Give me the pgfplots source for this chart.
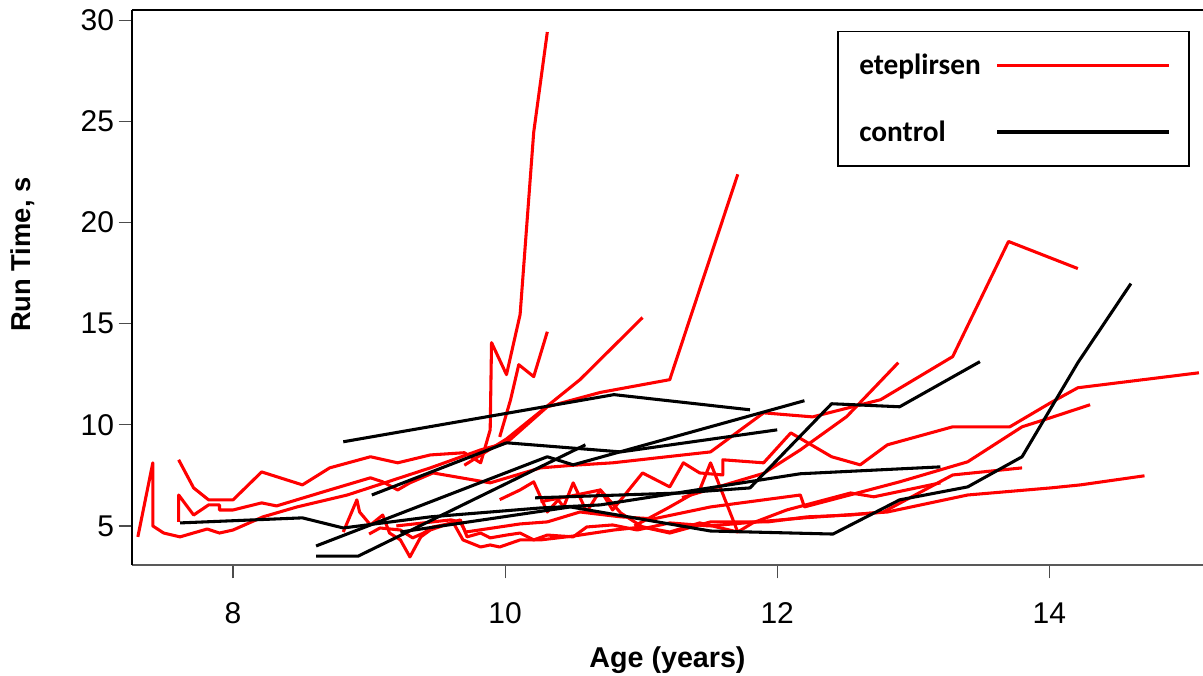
\documentclass[border=0pt]{standalone}
\usepackage{fontspec}
\setmainfont{Liberation Sans}
\newfontfamily\legfont{Carlito}
\usepackage{pgfplots}
\pgfplotsset{compat=1.18}
\begin{document}
\begin{tikzpicture}
\useasboundingbox (-99pt,-82.5pt) rectangle (803.25pt,423.75pt);
\begin{axis}[
  at={(0,0)}, anchor=south west, scale only axis,
  width=803.25pt, height=416.25pt,
  xmin=7.257, xmax=15.13, ymin=3.07, ymax=30.5,
  axis x line*=bottom, axis y line*=left,
  x axis line style={-, draw=black!65, line width=2pt},
  y axis line style={-, draw=black, line width=1pt},
  xtick={8,10,12,14}, ytick={5,10,15,20,25,30},
  tick align=outside, major tick length=10pt,
  tick style={draw=black!70, line width=0.9pt},
  /pgf/number format/assume math mode=true,
  ticklabel style={font=\fontsize{22.5}{26}\selectfont},
  yticklabel style={anchor=east},
  xticklabel style={anchor=north, yshift=-15pt},
  xlabel={Age (years)}, ylabel={Run Time, s},
  every axis x label/.style={at={(rel axis cs:0.5,0)}, yshift=-71pt, anchor=center,
    font=\bfseries\fontsize{21.5}{25}\selectfont},
  every axis y label/.style={at={(rel axis cs:0,0.559)}, xshift=-82pt, rotate=90, anchor=center,
    font=\bfseries\fontsize{20.5}{24}\selectfont},
  every axis plot/.append style={line width=2.3pt, line join=round},
  legend style={at={(0.988,0.963)}, anchor=north east, draw=black, line width=1.4pt,
    font=\legfont\bfseries\fontsize{22}{26}\selectfont, inner xsep=14pt, inner ysep=15pt,
    row sep=29pt, /tikz/every even column/.append style={column sep=13pt}},
  legend cell align=left, legend plot pos=right,
  legend image code/.code={\path (-9pt,0pt); \draw[#1, line width=2.3pt] (0pt,0pt) -- (129pt,0pt);},
]
\draw[black, line width=1pt] (rel axis cs:0,1) -- (rel axis cs:1,1);
\addlegendimage{red}
\addlegendentry{eteplirsen}
\addlegendimage{black}
\addlegendentry{control}
% eteplirsen (red)
\addplot[red, forget plot] coordinates {(7.60,8.27)(7.71,6.88)(7.82,6.29)(7.92,6.29)(8.00,6.29)(8.21,7.67)(8.51,7.03)(8.71,7.87)(9.01,8.42)(9.21,8.12)(9.45,8.51)(9.70,8.62)(9.82,8.12)(9.89,9.75)(9.90,14.06)(10.01,12.48)(10.11,15.45)(10.21,24.46)(10.31,29.41)};
\addplot[red, forget plot] coordinates {(7.30,4.46)(7.41,8.12)(7.41,5.00)(7.49,4.65)(7.61,4.46)(7.81,4.85)(7.90,4.65)(8.00,4.80)(8.22,5.45)(8.47,5.94)(8.84,6.53)(9.45,7.87)(9.82,8.76)(10.01,9.11)(10.31,10.89)(10.70,11.6)(11.21,12.23)(11.71,22.38)};
\addplot[red, forget plot] coordinates {(7.60,5.20)(7.60,6.53)(7.71,5.54)(7.82,6.04)(7.90,6.04)(7.90,5.79)(8.00,5.79)(8.21,6.14)(8.32,5.99)(8.71,6.78)(9.01,7.38)(9.10,7.18)(9.21,6.78)(9.30,7.13)(9.47,7.62)(9.89,7.13)(10.26,7.87)(10.50,8.00)(10.79,8.12)(11.51,8.66)(11.90,10.59)(12.26,10.39)(12.76,11.24)(13.29,13.37)(13.70,19.06)(14.21,17.72)};
\addplot[red, forget plot] coordinates {(9.70,8.00)(10.01,9.30)(10.55,12.23)(11.01,15.30)};
\addplot[red, forget plot] coordinates {(9.96,9.40)(10.04,11.24)(10.10,12.97)(10.21,12.38)(10.31,14.60)};
\addplot[red, forget plot] coordinates {(11.30,6.40)(11.90,7.60)(12.17,8.76)(12.51,10.40)(12.89,13.07)};
\addplot[red, forget plot] coordinates {(9.96,6.30)(10.11,6.78)(10.21,7.18)(10.31,5.69)(10.39,6.29)(10.43,5.94)(10.50,7.13)(10.60,5.69)(10.70,6.78)(10.79,5.79)(11.01,7.62)(11.21,6.93)(11.31,8.12)(11.43,7.62)(11.60,7.52)(11.60,8.27)(11.90,8.12)(12.10,9.60)(12.40,8.42)(12.61,8.02)(12.81,9.01)(13.29,9.90)(13.71,9.90)(14.01,11.09)(14.21,11.83)(15.10,12.57)};
\addplot[red, forget plot] coordinates {(8.81,4.70)(8.91,6.29)(8.93,5.69)(9.01,5.05)(9.10,5.54)(9.15,4.65)(9.23,4.31)(9.30,3.47)(9.38,4.46)(9.45,4.80)(9.60,5.15)(9.67,5.30)(9.72,4.46)(9.82,4.65)(9.89,4.41)(10.01,4.55)(10.11,4.65)(10.21,4.31)(10.31,4.55)(10.50,4.46)(10.60,4.95)(10.79,5.05)(10.97,4.80)(11.21,5.15)(11.50,5.00)(12.20,5.40)(12.81,5.69)(13.40,6.53)(14.01,6.88)(14.23,7.03)(14.70,7.48)};
\addplot[red, forget plot] coordinates {(9.00,4.60)(9.08,4.90)(9.23,4.80)(9.32,4.41)(9.40,4.65)(9.47,4.95)(9.62,5.15)(9.69,4.31)(9.82,3.96)(9.89,4.06)(9.96,3.96)(10.11,4.31)(10.26,4.31)(10.50,4.50)(10.80,4.80)(11.01,4.95)(11.21,4.65)(11.51,5.20)(11.93,5.20)(12.22,5.45)(12.54,5.54)(12.78,5.69)(13.29,7.52)(13.80,7.87)};
\addplot[red, forget plot] coordinates {(9.20,5.00)(9.60,5.30)(9.67,5.20)(9.71,4.70)(10.11,5.10)(10.31,5.20)(10.55,5.69)(10.85,5.45)(11.09,5.35)(11.51,5.94)(12.17,6.53)(12.20,5.94)(12.90,7.18)(13.40,8.17)(13.80,9.90)(14.01,10.35)(14.30,10.99)};
\addplot[red, forget plot] coordinates {(10.26,6.20)(10.50,6.50)(10.70,6.78)(10.85,5.64)(11.01,4.95)(11.21,4.70)(11.43,5.15)(11.71,4.70)(11.82,5.15)(12.07,5.79)(12.54,6.63)(12.71,6.44)(13.20,7.13)};
\addplot[red, forget plot] coordinates {(10.95,5.00)(11.20,5.90)(11.43,6.78)(11.51,8.12)(11.71,4.70)};
% control (black)
\addplot[black, forget plot] coordinates {(8.81,9.16)(10.80,11.49)(11.80,10.74)};
\addplot[black, forget plot] coordinates {(9.02,6.53)(10.01,9.11)(10.85,8.66)(12.00,9.75)};
\addplot[black, forget plot] coordinates {(8.61,4.01)(10.31,8.42)(10.50,8.02)(12.20,11.19)};
\addplot[black, forget plot] coordinates {(8.61,3.51)(8.92,3.51)(10.59,9.01)};
\addplot[black, forget plot] coordinates {(7.61,5.15)(8.51,5.40)(8.81,4.90)(9.45,5.45)(10.26,5.89)(10.70,6.04)(12.17,7.58)(13.20,7.92)};
\addplot[black, forget plot] coordinates {(10.22,6.39)(11.29,6.63)(11.80,6.88)(12.40,11.04)(12.90,10.89)(13.49,13.12)};
\addplot[black, forget plot] coordinates {(9.23,4.70)(10.48,5.94)(11.51,4.75)(12.41,4.60)(12.90,6.29)(13.40,6.93)(13.80,8.42)(14.21,13.07)(14.60,16.98)};
\end{axis}
\end{tikzpicture}
\end{document}
